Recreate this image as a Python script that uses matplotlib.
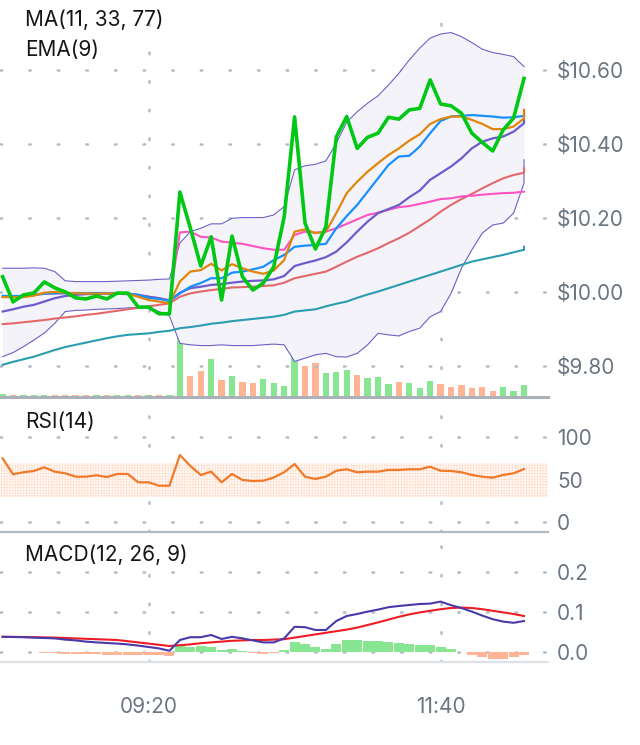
import matplotlib
matplotlib.use('Agg')
import matplotlib.pyplot as plt
import numpy as np
import pandas as pd

# 5 minute bars, 08:10 .. 12:20
close = [10.041, 9.973, 9.992, 9.997, 10.027, 10.011, 10.000, 9.984, 9.981, 9.989,
         9.981, 9.997, 9.997, 9.959, 9.959, 9.941, 9.941, 10.270, 10.173, 10.070,
         10.149, 9.978, 10.151, 10.041, 10.005, 10.024, 10.068, 10.203, 10.473, 10.186,
         10.116, 10.176, 10.419, 10.474, 10.388, 10.418, 10.429, 10.472, 10.467, 10.492,
         10.496, 10.573, 10.508, 10.503, 10.483, 10.429, 10.404, 10.381, 10.438, 10.470,
         10.577]
ema9 = [9.986, 9.986, 9.986, 9.990, 9.998, 10.000, 9.998, 9.996, 9.996, 9.995,
        9.996, 9.996, 9.995, 9.987, 9.978, 9.974, 9.969, 10.028, 10.055, 10.059,
        10.076, 10.058, 10.075, 10.064, 10.055, 10.049, 10.058, 10.086, 10.163, 10.169,
        10.159, 10.163, 10.213, 10.267, 10.298, 10.325, 10.348, 10.370, 10.388, 10.409,
        10.426, 10.454, 10.467, 10.474, 10.474, 10.465, 10.454, 10.440, 10.440, 10.447,
        10.469]
ma11 = [9.989, 9.989, 9.989, 9.992, 9.995, 9.996, 9.997, 9.997, 9.997, 9.997,
        9.997, 9.997, 9.996, 9.992, 9.984, 9.981, 9.976, 9.996, 10.014, 10.024,
        10.037, 10.037, 10.052, 10.055, 10.061, 10.068, 10.086, 10.100, 10.122, 10.125,
        10.127, 10.130, 10.172, 10.205, 10.235, 10.271, 10.307, 10.343, 10.366, 10.368,
        10.393, 10.429, 10.462, 10.474, 10.476, 10.478, 10.476, 10.474, 10.471, 10.472,
        10.476]
ma33 = [9.947, 9.953, 9.960, 9.965, 9.974, 9.983, 9.989, 9.992, 9.994, 9.995,
        9.995, 9.995, 9.994, 9.992, 9.987, 9.983, 9.976, 9.998, 10.010, 10.014,
        10.019, 10.021, 10.025, 10.028, 10.030, 10.031, 10.034, 10.043, 10.070, 10.078,
        10.085, 10.094, 10.109, 10.134, 10.163, 10.190, 10.213, 10.224, 10.235, 10.256,
        10.274, 10.303, 10.321, 10.339, 10.361, 10.388, 10.406, 10.415, 10.420, 10.433,
        10.456]
ma77 = [9.913, 9.915, 9.918, 9.921, 9.924, 9.928, 9.931, 9.934, 9.938, 9.941,
        9.945, 9.949, 9.953, 9.957, 9.961, 9.965, 9.969, 9.987, 9.996, 10.001,
        10.005, 10.008, 10.012, 10.013, 10.014, 10.016, 10.018, 10.025, 10.037, 10.043,
        10.049, 10.055, 10.068, 10.082, 10.095, 10.106, 10.118, 10.132, 10.145, 10.160,
        10.178, 10.196, 10.217, 10.235, 10.251, 10.265, 10.280, 10.294, 10.307, 10.316,
        10.322]
ma_long = [9.803, 9.811, 9.818, 9.825, 9.834, 9.843, 9.851, 9.857, 9.863, 9.869,
           9.875, 9.880, 9.884, 9.886, 9.888, 9.892, 9.895, 9.902, 9.905, 9.909,
           9.914, 9.917, 9.921, 9.924, 9.927, 9.930, 9.933, 9.938, 9.947, 9.950,
           9.953, 9.961, 9.968, 9.974, 9.984, 9.993, 10.001, 10.010, 10.019, 10.028,
           10.037, 10.046, 10.055, 10.064, 10.073, 10.082, 10.088, 10.094, 10.100, 10.107,
           10.114]
avg_line = [9.987, 9.987, 9.989, 9.992, 9.995, 9.996, 9.996, 9.996, 9.996, 9.996,
            9.996, 9.996, 9.995, 9.992, 9.987, 9.983, 9.978, 10.161, 10.163, 10.149,
            10.147, 10.136, 10.133, 10.130, 10.124, 10.118, 10.114, 10.114, 10.154, 10.163,
            10.160, 10.163, 10.172, 10.184, 10.196, 10.208, 10.214, 10.222, 10.229, 10.232,
            10.238, 10.244, 10.251, 10.253, 10.258, 10.260, 10.263, 10.265, 10.267, 10.268,
            10.271]
bb_upper = [10.064, 10.064, 10.064, 10.065, 10.064, 10.055, 10.030, 10.028, 10.028, 10.028,
            10.028, 10.029, 10.030, 10.031, 10.032, 10.034, 10.035, 10.132, 10.163, 10.172,
            10.184, 10.184, 10.199, 10.201, 10.201, 10.201, 10.208, 10.231, 10.330, 10.341,
            10.345, 10.354, 10.402, 10.459, 10.487, 10.510, 10.530, 10.559, 10.591, 10.627,
            10.659, 10.686, 10.697, 10.701, 10.690, 10.674, 10.656, 10.647, 10.642, 10.636,
            10.609]
bb_lower = [9.825, 9.836, 9.852, 9.870, 9.889, 9.915, 9.947, 9.950, 9.951, 9.953,
            9.954, 9.955, 9.957, 9.958, 9.957, 9.947, 9.935, 9.861, 9.857, 9.855,
            9.855, 9.857, 9.855, 9.855, 9.855, 9.857, 9.859, 9.857, 9.812, 9.821,
            9.830, 9.834, 9.825, 9.824, 9.834, 9.857, 9.888, 9.884, 9.881, 9.893,
            9.902, 9.933, 9.947, 9.996, 10.064, 10.114, 10.159, 10.181, 10.186, 10.213,
            10.294]
# last (still forming) tick of some lines
ema9_live = 10.492
ma33_live = 10.465
ma77_live = 10.334
ma_long_live = 10.122
bb_lower_live = 10.357

volume = [6, 4, 4, 4, 4, 4, 4, 4, 4, 4, 4, 4, 4, 4, 4, 4, 4,
          132, 42, 52, 76, 34, 42, 30, 28, 36, 28, 22, 84, 62, 68, 48, 50, 54,
          44, 38, 40, 26, 30, 28, 18, 32, 26, 20, 24, 18, 20, 12, 20, 12, 24]

rsi = [75.5, 56.7, 59.1, 60.6, 64.9, 59.8, 57.9, 53.9, 53.9, 55.5,
       53.5, 57.1, 57.1, 47.3, 47.3, 43.3, 43.3, 79.4, 66.5, 55.9,
       59.8, 47.3, 57.1, 50.0, 48.8, 49.2, 52.9, 59.1, 68.8, 53.9,
       51.2, 53.9, 60.9, 62.6, 59.1, 59.8, 59.8, 61.8, 61.8, 62.6,
       62.6, 65.6, 60.9, 60.6, 59.1, 55.9, 53.9, 52.7, 55.9, 57.9,
       62.9]

macd = [0.038, 0.0375, 0.037, 0.036, 0.035, 0.034, 0.031, 0.029, 0.026, 0.024,
        0.0225, 0.021, 0.019, 0.016, 0.0125, 0.009, 0.003, 0.030, 0.037, 0.037,
        0.0425, 0.0325, 0.038, 0.034, 0.029, 0.024, 0.024, 0.034, 0.063, 0.062,
        0.055, 0.055, 0.0775, 0.090, 0.095, 0.101, 0.106, 0.112, 0.115, 0.1175,
        0.120, 0.121, 0.126, 0.117, 0.110, 0.101, 0.091, 0.082, 0.076, 0.073,
        0.0775]
signal = [0.038, 0.0378, 0.0375, 0.037, 0.0365, 0.036, 0.035, 0.034, 0.033, 0.032,
          0.031, 0.030, 0.027, 0.024, 0.021, 0.018, 0.015, 0.017, 0.019, 0.022,
          0.024, 0.026, 0.028, 0.029, 0.030, 0.030, 0.031, 0.032, 0.036, 0.040,
          0.044, 0.048, 0.052, 0.056, 0.061, 0.0675, 0.074, 0.081, 0.088, 0.094,
          0.099, 0.103, 0.107, 0.110, 0.111, 0.110, 0.107, 0.103, 0.099, 0.095,
          0.090]
hist = [-0.001, -0.001, -0.001, -0.001, -0.0015, -0.0015, -0.004, -0.005, -0.006, -0.006,
        -0.0065, -0.007, -0.007, -0.0075, -0.008, -0.0085, -0.011, 0.017, 0.013, 0.015,
        0.013, 0.004, 0.008, 0.0025, -0.002, -0.004, -0.002, 0.004, 0.025, 0.021,
        0.012, 0.008, 0.021, 0.031, 0.029, 0.0275, 0.027, 0.025, 0.0225, 0.021,
        0.018, 0.017, 0.0125, 0.007, -0.001, -0.007, -0.0125, -0.017, -0.017, -0.0125,
        -0.008]

price_ticks = [9.8, 10.0, 10.2, 10.4, 10.6]
rsi_ticks = [0, 50, 100]
macd_ticks = [0.0, 0.1, 0.2]
time_ticks = ['09:20', '11:40']

plt.rcParams['font.family'] = ['Inter', 'DejaVu Sans']
plt.rcParams['lines.scale_dashes'] = False
plt.rcParams['hatch.linewidth'] = 0.5

times = pd.date_range('2024-01-02 08:10', periods=len(close), freq='5min')
idx = np.arange(len(close))
idx_live = np.append(idx, idx[-1])
tick_pos = [int(np.where(times.strftime('%H:%M') == t)[0][0]) for t in time_ticks]

GREEN = '#88e592'
RED = '#ffb595'
DOTS = '#b3bdc7'
LABEL = '#6b7681'
dotted = (0, (1.2, 19.4))

W = 548 / 640
fig = plt.figure(figsize=(6.4, 7.45), dpi=100)
ax = fig.add_axes([0, (745 - 397) / 745, W, 397 / 745])
axv = ax.twinx()
ax_rsi = fig.add_axes([0, (745 - 532) / 745, W, 133 / 745])
ax_macd = fig.add_axes([0, (745 - 662) / 745, W, 128 / 745])

for a in [ax, axv, ax_rsi, ax_macd]:
    a.set_xlim(-0.25, 52.3)
    for s in ['top', 'left', 'right', 'bottom']:
        a.spines[s].set_visible(False)
    a.tick_params(length=0, labelsize=15, labelcolor=LABEL)
    a.set_xticks([])

for a in [ax, ax_rsi, ax_macd]:
    a.yaxis.tick_right()
    a.tick_params(axis='y', pad=6.5)
    for p in tick_pos:
        a.axvline(p, color=DOTS, lw=1.8, ls=dotted, dash_capstyle='round', zorder=0)

# ---- main panel
ax.set_zorder(axv.get_zorder() + 1)
ax.patch.set_visible(False)
up = np.r_[True, np.diff(close) >= 0]
axv.bar(idx, volume, width=0.6, color=np.where(up, GREEN, RED))
axv.set_ylim(0, max(volume) * 6)
axv.set_yticks([])

ax.set_ylim(9.716, 10.789)
ax.set_yticks(price_ticks)
ax.set_yticklabels(['$%.2f' % v for v in price_ticks])
for v in price_ticks:
    ax.axhline(v, color=DOTS, lw=1.8, ls=dotted, dash_capstyle='round', zorder=0)

upper_live = np.append(bb_upper, bb_upper[-1])
lower_live = np.append(bb_lower, bb_lower_live)
ax.fill_between(idx_live, lower_live, upper_live, color='#f4f3fa', zorder=0.5, lw=0)
ax.plot(idx_live, upper_live, color='#6b63c8', lw=0.8)
ax.plot(idx_live, lower_live, color='#6b63c8', lw=0.8)
ax.plot(idx_live, np.append(ma_long, ma_long_live), color='#2b9db0', lw=1.5)
ax.plot(idx_live, np.append(ma77, ma77_live), color='#e4686a', lw=1.5)
ax.plot(idx, avg_line, color='#ff52c3', lw=1.5)
ax.plot(idx_live, np.append(ma33, ma33_live), color='#6c5ccd', lw=1.6)
ax.plot(idx, ma11, color='#1890ff', lw=1.6)
ax.plot(idx_live, np.append(ema9, ema9_live), color='#e0860a', lw=1.6)
ax.plot(idx, close, color='#00c814', lw=2.6)

ax.spines['bottom'].set_visible(True)
ax.spines['bottom'].set_color('#aab1b9')
ax.spines['bottom'].set_linewidth(2.2)
ax.text(0.046, 1 - 20 / 397, 'MA(11, 33, 77)', transform=ax.transAxes, va='center',
        fontsize=15, color='#161616')
ax.text(0.046, 1 - 50 / 397, 'EMA(9)', transform=ax.transAxes, va='center',
        fontsize=15, color='#161616')

# ---- RSI
ax_rsi.set_ylim(-11.2, 145.3)
ax_rsi.set_yticks(rsi_ticks)
ax_rsi.set_yticklabels([str(v) for v in rsi_ticks])
for v in rsi_ticks:
    ax_rsi.axhline(v, color=DOTS, lw=1.8, ls=dotted, dash_capstyle='round', zorder=0)
ax_rsi.fill_between([-0.25, 52.3], 30, 70, facecolor='#fffaf7', edgecolor='#ffe0cf',
                    hatch='++++++', lw=0, zorder=0.5)
ax_rsi.plot(idx, rsi, color='#f07a2a', lw=1.6)
ax_rsi.spines['bottom'].set_visible(True)
ax_rsi.spines['bottom'].set_color('#b2b9c0')
ax_rsi.spines['bottom'].set_linewidth(1.6)
ax_rsi.text(0.046, 1 - 23 / 133, 'RSI(14)', transform=ax_rsi.transAxes, va='center',
            fontsize=15, color='#161616')

# ---- MACD
ax_macd.set_ylim(-0.025, 0.295)
ax_macd.set_yticks(macd_ticks)
ax_macd.set_yticklabels(['%.1f' % v for v in macd_ticks])
for v in macd_ticks:
    ax_macd.axhline(v, color=DOTS, lw=1.8, ls=dotted, dash_capstyle='round', zorder=0)
hist_col = np.where(np.array(hist) >= 0, GREEN, RED)
ax_macd.bar(idx, hist, width=0.96, color=hist_col, zorder=1)
ax_macd.plot(idx, signal, color='#ee1c25', lw=1.5, zorder=3)
ax_macd.plot(idx, macd, color='#4a39a8', lw=1.5, zorder=3)
ax_macd.spines['bottom'].set_visible(True)
ax_macd.spines['bottom'].set_color('#dde2e7')
ax_macd.spines['bottom'].set_linewidth(1.6)
ax_macd.text(0.046, 1 - 21 / 128, 'MACD(12, 26, 9)', transform=ax_macd.transAxes,
             va='center', fontsize=15, color='#161616')
ax_macd.set_xticks(tick_pos)
ax_macd.set_xticklabels(time_ticks)
ax_macd.tick_params(axis='x', pad=25)

fig.savefig('out.png', dpi=100)
